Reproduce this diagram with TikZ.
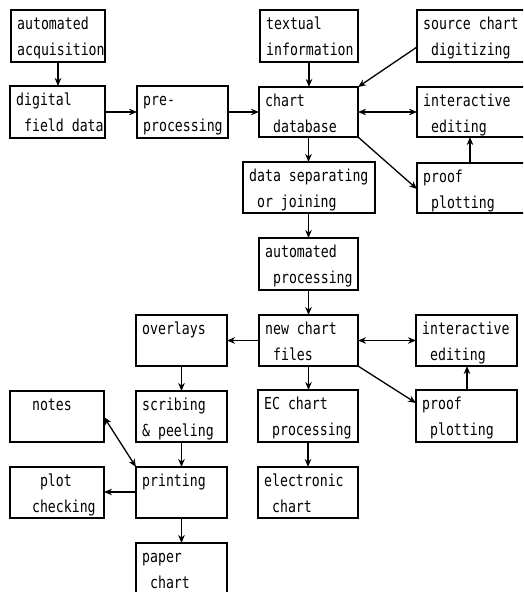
\documentclass[tikz,border=0pt]{standalone}
\usepackage{fontspec}
\setmonofont[FakeStretch=0.8]{DejaVu Sans Mono}
\usetikzlibrary{arrows.meta}
\tikzset{
  box/.style={draw=black, line width=1.9pt, inner sep=0pt, outer sep=0pt, rectangle},
  thinbox/.style={box, line width=1.1pt},
  txt/.style={anchor=base west, inner sep=0pt, font=\ttfamily\fontsize{16.5}{18}\selectfont},
  arr/.style={line width=1.3pt, -{Stealth[length=8pt,width=6.5pt,inset=2.5pt]}},
  darr/.style={line width=1.3pt, {Stealth[length=8pt,width=6.5pt,inset=2.5pt]}-{Stealth[length=8pt,width=6.5pt,inset=2.5pt]}},
}
% name, x1, y1, w, h, style
\newcommand\mkbox[6]{\node[#6, minimum width=#4pt, minimum height=#5pt] (#1) at ({#2+#4/2},{#3+#5/2}) {};}
\newcommand\mktxt[4]{\node[txt] (#1-#2) at ([shift={(6,#3)}]#1.north west) {#4};}
\begin{document}
\begin{tikzpicture}[x=1pt,y=-1pt]
\useasboundingbox (0,0) rectangle (523,592);
\fill[white] (0,0) rectangle (523,592);
\begin{scope}
\clip (0,0) rectangle (523,592);
% boxes
\mkbox{acq}{11}{10}{94}{52}{box}
\mkbox{dig}{10}{86}{95}{52}{box}
\mkbox{pre}{137}{86}{91}{52}{box}
\mkbox{tex}{260}{10}{98}{52}{box}
\mkbox{src}{417}{10}{112}{52}{box}
\mkbox{cdb}{259}{87}{99}{50}{thinbox}
\mkbox{ieA}{417}{87}{112}{50}{box}
\mkbox{dsj}{243}{162}{132}{51}{box}
\mkbox{ppA}{417}{163}{112}{50}{box}
\mkbox{aut}{259}{238}{99}{52}{box}
\mkbox{ncf}{259}{315}{99}{51}{thinbox}
\mkbox{ieB}{416}{315}{101}{51}{box}
\mkbox{ppB}{416}{390}{101}{52}{box}
\mkbox{ecp}{258}{390}{100}{52}{box}
\mkbox{ele}{258}{467}{100}{51}{box}
\mkbox{ovl}{136}{315}{91}{51}{box}
\mkbox{not}{10}{391}{94}{51}{box}
\mkbox{scr}{136}{391}{91}{51}{box}
\mkbox{prn}{136}{467}{91}{51}{box}
\mkbox{plc}{10}{467}{94}{51}{box}
\mkbox{pap}{136}{543}{91}{60}{box}
% texts
\mktxt{acq}{a}{19}{automated}
\mktxt{acq}{b}{45}{acquisition}
\mktxt{dig}{a}{19}{digital}
\mktxt{dig}{b}{45}{\phantom{x}field data}
\mktxt{pre}{a}{19}{pre-}
\mktxt{pre}{b}{45}{processing}
\mktxt{tex}{a}{19}{textual}
\mktxt{tex}{b}{45}{information}
\mktxt{src}{a}{19}{source chart}
\mktxt{src}{b}{45}{\phantom{x}digitizing}
\mktxt{cdb}{a}{19}{chart}
\mktxt{cdb}{b}{45}{\phantom{x}database}
\mktxt{ieA}{a}{19}{interactive}
\mktxt{ieA}{b}{45}{\phantom{x}editing}
\mktxt{dsj}{a}{19}{data separating}
\mktxt{dsj}{b}{45}{\phantom{x}or joining}
\mktxt{ppA}{a}{19}{proof}
\mktxt{ppA}{b}{45}{\phantom{x}plotting}
\mktxt{aut}{a}{19}{automated}
\mktxt{aut}{b}{45}{\phantom{x}processing}
\mktxt{ncf}{a}{19}{new chart}
\mktxt{ncf}{b}{45}{\phantom{x}files}
\mktxt{ieB}{a}{19}{interactive}
\mktxt{ieB}{b}{45}{\phantom{x}editing}
\mktxt{ppB}{a}{19}{proof}
\mktxt{ppB}{b}{45}{\phantom{x}plotting}
\mktxt{ecp}{a}{19}{EC chart}
\mktxt{ecp}{b}{45}{\phantom{x}processing}
\mktxt{ele}{a}{19}{electronic}
\mktxt{ele}{b}{45}{\phantom{x}chart}
\mktxt{ovl}{a}{19}{overlays}
\mktxt{not}{a}{19}{\phantom{xx}notes}
\mktxt{scr}{a}{19}{scribing}
\mktxt{scr}{b}{45}{\&\ peeling}
\mktxt{prn}{a}{19}{printing}
\mktxt{plc}{a}{19}{\phantom{xxx}plot}
\mktxt{plc}{b}{45}{\phantom{xx}checking}
\mktxt{pap}{a}{19}{paper}
\mktxt{pap}{b}{45}{\phantom{x}chart}
% connectors
\draw[arr] (acq.south) -- (acq.south |- dig.north);
\draw[arr] (dig.east) -- (dig.east -| pre.west);
\draw[arr] (pre.east) -- (pre.east -| cdb.west);
\draw[arr] (tex.south) -- (tex.south |- cdb.north);
\coordinate (srcA) at ([yshift=-11pt]src.west);
\draw[arr] (srcA) -- (cdb.north east);
\draw[darr] (cdb.east) -- (cdb.east -| ieA.west);
\coordinate (ppAin) at ([yshift=-1pt]ppA.west);
\draw[arr] (cdb.south east) -- (ppAin);
\coordinate (ppAup) at (470,163);
\draw[arr] (ppAup) -- (ppAup |- ieA.south);
\draw[arr] (cdb.south) -- (cdb.south |- dsj.north);
\draw[arr] (dsj.south -| aut.north) -- (aut.north);
\draw[arr] (aut.south) -- (aut.south |- ncf.north);
\draw[arr] (ncf.west) -- (ncf.west -| ovl.east);
\draw[darr] (ncf.east) -- (ncf.east -| ieB.west);
\draw[arr] (ncf.south east) -- ([yshift=-13pt]ppB.north west);
\coordinate (ppBup) at (467,390);
\draw[arr] (ppBup) -- (ppBup |- ieB.south);
\draw[arr] (ncf.south) -- (ncf.south |- ecp.north);
\draw[arr] (ecp.south) -- (ecp.south |- ele.north);
\draw[arr] (ovl.south) -- (ovl.south |- scr.north);
\draw[arr] (scr.south) -- (scr.south |- prn.north);
\draw[darr] ([yshift=-26pt]not.north east) -- (prn.north west);
\draw[arr] ([yshift=-25pt]prn.north west) -- ([yshift=-25pt]prn.north west -| plc.east);
\draw[arr] (prn.south) -- (prn.south |- pap.north);
\end{scope}
\end{tikzpicture}
\end{document}
